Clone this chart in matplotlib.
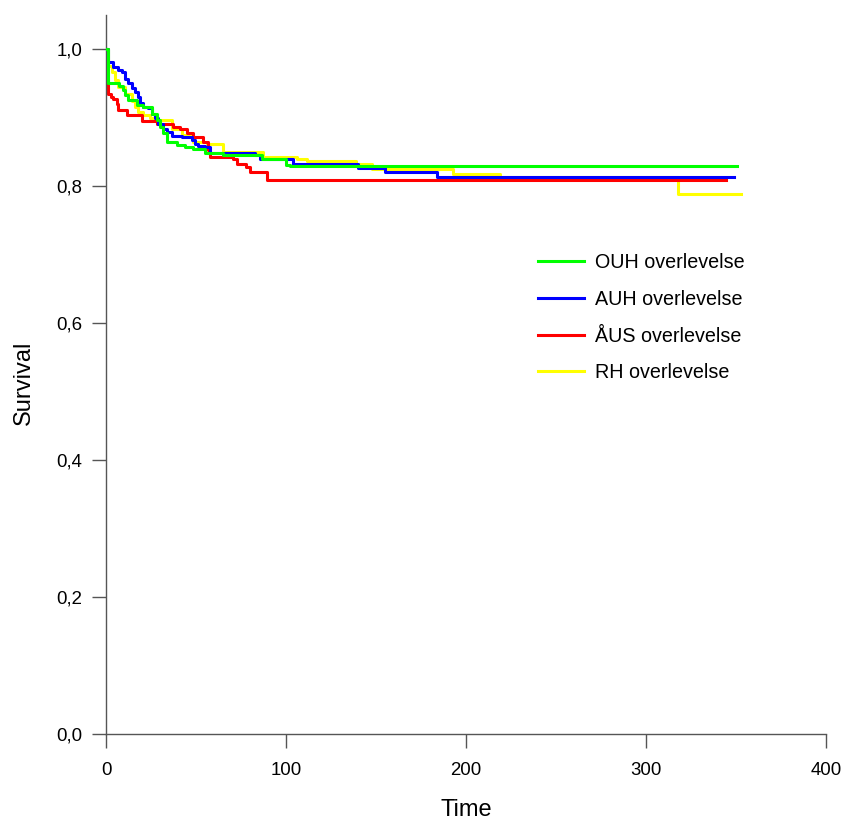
import matplotlib
matplotlib.use('Agg')
import matplotlib.pyplot as plt
from matplotlib.ticker import FuncFormatter

plt.rcParams['font.family'] = ['Liberation Sans', 'DejaVu Sans']

# Kaplan-Meier style step curves (time, survival)
ouh_t = [0, 1.3, 7.2, 9.6, 10.6, 12.4, 17, 20.7, 25.4, 28.1, 30, 31.9, 33.7, 39.3,
         43.9, 48.5, 55, 65, 86.5, 100, 102, 350.6]
ouh_s = [1.0, 0.950, 0.946, 0.940, 0.933, 0.926, 0.918, 0.916, 0.906, 0.896, 0.887,
         0.877, 0.865, 0.860, 0.857, 0.855, 0.848, 0.845, 0.840, 0.831, 0.829, 0.829]

auh_t = [0, 1.3, 4, 6.9, 8.7, 10.6, 12.4, 14.3, 16.1, 17.6, 18.9, 20.7, 23.5, 25.4,
         27.2, 29, 31.9, 33.7, 36.5, 42, 47.6, 49.4, 51.3, 55, 57.8, 82.8, 85.6,
         104, 140, 155, 184, 349]
auh_s = [1.0, 0.982, 0.974, 0.969, 0.967, 0.957, 0.950, 0.944, 0.938, 0.930, 0.921,
         0.916, 0.914, 0.906, 0.899, 0.891, 0.884, 0.879, 0.874, 0.872, 0.867, 0.862,
         0.859, 0.857, 0.848, 0.845, 0.840, 0.833, 0.826, 0.821, 0.813, 0.813]

aus_t = [0, 0.5, 1.3, 2.5, 4, 5.9, 6.9, 11.5, 19.8, 28.1, 37, 41, 44.8, 48.5, 54,
         56.8, 57.8, 70.7, 72.6, 78, 80, 89.5, 344.5]
aus_s = [1.0, 0.955, 0.935, 0.930, 0.928, 0.920, 0.911, 0.904, 0.895, 0.891, 0.887,
         0.884, 0.877, 0.872, 0.865, 0.853, 0.843, 0.840, 0.833, 0.828, 0.821, 0.809,
         0.809]

rh_t = [0, 1.3, 3.1, 5, 6.9, 10.6, 14.3, 16.1, 18, 20.7, 24.4, 28.1, 36.5, 42, 48.5,
        56, 65, 87, 106, 111.5, 139, 148, 193, 219, 318, 353]
rh_s = [1.0, 0.975, 0.967, 0.955, 0.945, 0.935, 0.925, 0.916, 0.908, 0.904, 0.900,
        0.896, 0.884, 0.875, 0.865, 0.862, 0.850, 0.843, 0.840, 0.837, 0.832, 0.825,
        0.818, 0.813, 0.788, 0.788]

labels = ['OUH overlevelse', 'AUH overlevelse', 'ÅUS overlevelse', 'RH overlevelse']
colors = ['#00ff00', '#0000ff', '#ff0000', '#ffff00']

fig = plt.figure(figsize=(8.45, 8.24), dpi=100)
ax = fig.add_axes([106/845, 1 - 734/824, 720/845, 719/824])

lw = 2.2
l_rh, = ax.step(rh_t, rh_s, where='post', color=colors[3], lw=lw, zorder=1)
l_aus, = ax.step(aus_t, aus_s, where='post', color=colors[2], lw=lw, zorder=2)
l_auh, = ax.step(auh_t, auh_s, where='post', color=colors[1], lw=lw, zorder=3)
l_ouh, = ax.step(ouh_t, ouh_s, where='post', color=colors[0], lw=lw, zorder=4)

ax.set_xlim(0, 400)
ax.set_ylim(0, 1.05)
ax.set_xticks([0, 100, 200, 300, 400])
ax.set_yticks([0, 0.2, 0.4, 0.6, 0.8, 1.0])
ax.yaxis.set_major_formatter(FuncFormatter(lambda v, p: ('%.1f' % v).replace('.', ',')))

for s in ['top', 'right']:
    ax.spines[s].set_visible(False)
for s in ['left', 'bottom']:
    ax.spines[s].set_color('#555555')
    ax.spines[s].set_linewidth(1.0)
ax.tick_params(direction='out', length=10, width=1.0, color='#555555',
               labelsize=13.4, labelcolor='black')
ax.tick_params(axis='x', pad=10)
ax.tick_params(axis='y', pad=7)

fig.text(0.5 * (106 + 826) / 845, 1 - 810/824, 'Time', ha='center', va='center', fontsize=17)
fig.text(24/845, 1 - 383/824, 'Survival', ha='center', va='center', rotation=90, fontsize=17)

ax.legend([l_ouh, l_auh, l_aus, l_rh], labels, frameon=False, fontsize=14.2,
          loc='upper left', bbox_to_anchor=(538/845, 1 - 253/824),
          bbox_transform=fig.transFigure, borderpad=0, borderaxespad=0,
          handlelength=2.35, handletextpad=0.55, labelspacing=0.9)

fig.savefig('out.png', dpi=100)
